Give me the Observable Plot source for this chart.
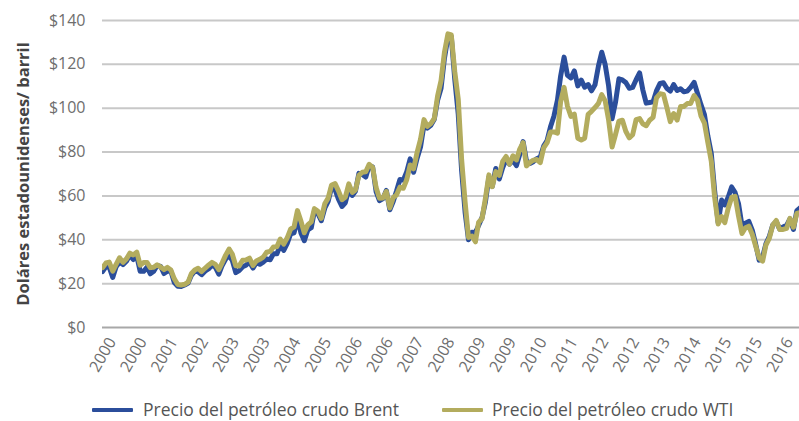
<!DOCTYPE html>
<html>
<head>
<meta charset="utf-8">
<script src="https://cdn.jsdelivr.net/npm/d3@7"></script>
<script src="https://cdn.jsdelivr.net/npm/@observablehq/plot@0.6"></script>
<style>
  html, body { margin: 0; padding: 0; background: #fff; }
  #wrap { position: relative; width: 799px; height: 421px; overflow: hidden; font-family: "Open Sans", sans-serif; }
  #legend { position: absolute; left: 0; top: 382px; width: 799px; height: 39px; }
  .sw { position: absolute; height: 4px; top: 26px; width: 41px; border-radius: 1px; }
  .lt { position: absolute; top: 15px; font-size: 17.5px; line-height: 24px; color: #555; white-space: nowrap; }
</style>
</head>
<body>
<div id="wrap">
  <div id="chart"></div>
  <div id="legend"></div>
</div>
<script>
// Monthly prices, Jan 2000 onward (USD per barrel)
const startYear = 2000;
const brent = [
  25.5, 27.8, 27.5, 22.8, 27.7, 29.8, 28.7, 30.2, 33.1, 31.0, 32.6, 25.7,
  25.6, 27.5, 24.5, 25.7, 28.3, 27.9, 24.6, 25.7, 25.6, 20.5, 18.8, 18.7,
  19.4, 20.3, 23.7, 25.7, 25.4, 24.1, 25.7, 26.7, 28.4, 27.5, 24.3, 28.3,
  31.2, 32.8, 30.6, 25.0, 25.9, 27.7, 28.4, 29.9, 27.1, 29.6, 28.8, 29.8,
  31.3, 30.9, 33.6, 33.6, 37.6, 35.2, 38.2, 42.7, 43.2, 49.8, 43.1, 39.6,
  44.5, 45.5, 53.1, 51.9, 48.7, 54.4, 57.5, 64.0, 62.9, 58.5, 55.2, 56.9,
  63.0, 60.2, 62.1, 70.3, 69.8, 68.6, 73.7, 73.2, 62.0, 57.8, 58.8, 62.5,
  53.7, 57.6, 62.1, 67.5, 67.2, 71.1, 76.9, 70.8, 77.2, 82.3, 92.4, 90.9,
  92.2, 95.0, 103.6, 109.1, 122.8, 132.3, 132.7, 113.2, 97.2, 71.6, 52.5, 40.0,
  43.4, 43.3, 46.5, 50.2, 57.3, 68.6, 64.4, 72.5, 67.7, 72.8, 76.7, 74.5,
  76.2, 73.8, 78.8, 84.8, 76.0, 74.8, 75.6, 77.0, 77.8, 82.7, 85.3, 91.5,
  96.5, 103.7, 114.6, 123.3, 115.0, 113.8, 117.0, 110.2, 112.8, 109.6, 110.8, 107.9,
  110.7, 119.3, 125.5, 119.8, 110.3, 95.2, 102.6, 113.4, 112.9, 111.7, 109.1, 109.5,
  113.0, 116.1, 108.5, 102.3, 102.6, 102.9, 107.9, 111.3, 111.6, 109.1, 107.8, 110.8,
  108.1, 108.9, 107.5, 107.8, 109.5, 111.8, 106.8, 101.6, 97.1, 87.4, 79.4, 62.3,
  47.8, 58.1, 55.9, 59.5, 64.1, 61.5, 56.6, 46.5, 47.6, 48.4, 44.3, 38.0,
  30.7, 32.2, 38.2, 41.6, 46.7, 48.3, 45.0, 45.8, 46.6, 49.5, 44.7, 53.3,
  54.6
];
const wti = [
  27.3, 29.4, 29.8, 25.7, 28.8, 31.8, 29.7, 31.3, 33.9, 33.1, 34.4, 28.4,
  29.6, 29.6, 27.3, 27.5, 28.6, 27.6, 26.4, 27.4, 26.2, 22.2, 19.6, 19.4,
  19.7, 20.7, 24.5, 26.2, 27.0, 25.5, 27.0, 28.4, 29.7, 28.8, 26.4, 29.5,
  33.0, 35.8, 33.5, 28.2, 28.1, 30.7, 30.8, 31.6, 28.3, 30.3, 31.1, 32.1,
  34.3, 34.7, 36.7, 36.8, 40.3, 38.0, 40.8, 44.9, 45.9, 53.3, 48.5, 43.2,
  46.8, 48.2, 54.2, 53.0, 49.8, 56.4, 59.0, 65.0, 65.6, 62.3, 58.3, 59.4,
  65.5, 61.6, 62.7, 69.4, 70.8, 71.0, 74.4, 73.0, 63.8, 58.9, 59.1, 62.0,
  54.5, 59.3, 60.4, 64.0, 63.5, 67.5, 74.1, 72.4, 79.9, 85.8, 94.8, 91.7,
  93.0, 95.4, 105.5, 112.6, 125.4, 133.9, 133.4, 116.7, 104.1, 76.6, 57.3, 41.1,
  41.7, 39.1, 47.9, 49.7, 59.0, 69.6, 64.2, 71.1, 69.4, 75.7, 78.0, 74.5,
  78.3, 76.4, 81.2, 84.3, 73.7, 75.3, 76.3, 76.6, 75.2, 81.9, 84.3, 89.2,
  89.2, 88.6, 102.9, 109.5, 100.9, 96.3, 97.3, 86.3, 85.5, 86.3, 97.2, 98.6,
  100.3, 102.2, 106.2, 103.3, 94.7, 82.3, 87.9, 94.1, 94.5, 89.5, 86.5, 87.9,
  94.8, 95.3, 92.9, 92.0, 94.5, 95.8, 104.7, 106.6, 106.3, 100.5, 93.9, 97.6,
  94.6, 100.8, 100.8, 102.1, 102.2, 105.8, 103.6, 96.5, 93.2, 84.4, 75.8, 59.3,
  47.2, 50.6, 47.8, 54.5, 59.3, 59.8, 50.9, 42.9, 45.5, 46.2, 42.4, 37.2,
  31.7, 30.3, 37.6, 40.8, 46.7, 48.8, 44.7, 44.7, 45.2, 49.8, 45.7, 52.0,
  52.5
];
const seriesNames = ["Precio del petróleo crudo Brent", "Precio del petróleo crudo WTI"];
const seriesColors = ["#2b4e9b", "#b3ac5e"];
const yTicks = [0, 20, 40, 60, 80, 100, 120, 140];
const xTickMonths = ["2000-01","2000-10","2001-07","2002-04","2003-01","2003-10","2004-07","2005-04",
  "2006-01","2006-10","2007-07","2008-04","2009-01","2009-10","2010-07","2011-04",
  "2012-01","2012-10","2013-07","2014-04","2015-01","2015-10","2016-07"];
const yTitle = "Doláres estadounidenses/ barril";

const toDate = (i) => new Date(Date.UTC(startYear, i, 1));
const rows = [];
brent.forEach((v, i) => rows.push({date: toDate(i), value: v, s: seriesNames[0]}));
wti.forEach((v, i) => rows.push({date: toDate(i), value: v, s: seriesNames[1]}));
const xTicks = xTickMonths.map(m => new Date(m + "-01T00:00:00Z"));

const chart = Plot.plot({
  width: 799,
  height: 382,
  marginLeft: 102,
  marginRight: 0,
  marginTop: 20,
  marginBottom: 55,
  style: {fontFamily: "'Open Sans', sans-serif", background: "#fff"},
  x: {type: "utc", domain: [new Date(Date.UTC(2000, 0, 1)), new Date(Date.UTC(2016, 11, 25))], axis: null},
  y: {domain: [0, 140], axis: null},
  color: {domain: seriesNames, range: seriesColors},
  marks: [
    Plot.ruleY(yTicks, {y: d => d, stroke: d => d === 0 ? "#a8a8a8" : "#c8c8c8", strokeWidth: 2}),
    Plot.text(yTicks, {y: d => d, frameAnchor: "left", textAnchor: "end", dx: -17, text: d => "$" + d, fontSize: 16, fill: "#6e6e6e"}),
    Plot.text([yTitle], {frameAnchor: "left", textAnchor: "middle", dx: -79, rotate: -90, text: d => d, fontSize: 16.5, fontWeight: "bold", fill: "#444"}),
    Plot.text(xTicks, {x: d => d, frameAnchor: "bottom", rotate: -60, textAnchor: "end", dx: 14, dy: 14, text: d => String(d.getUTCFullYear()), fontSize: 16, fill: "#6e6e6e"}),
    Plot.line(rows, {x: "date", y: "value", z: "s", stroke: "s", strokeWidth: 5, strokeLinejoin: "round", strokeLinecap: "round", clip: true})
  ]
});
document.getElementById("chart").appendChild(chart);

const legend = document.getElementById("legend");
const legendPos = [[92, 143], [442, 492]];
seriesNames.forEach((name, i) => {
  const sw = document.createElement("div");
  sw.className = "sw";
  sw.style.left = legendPos[i][0] + "px";
  sw.style.background = seriesColors[i];
  legend.appendChild(sw);
  const t = document.createElement("div");
  t.className = "lt";
  t.style.left = legendPos[i][1] + "px";
  t.textContent = name;
  legend.appendChild(t);
});
</script>
</body>
</html>
